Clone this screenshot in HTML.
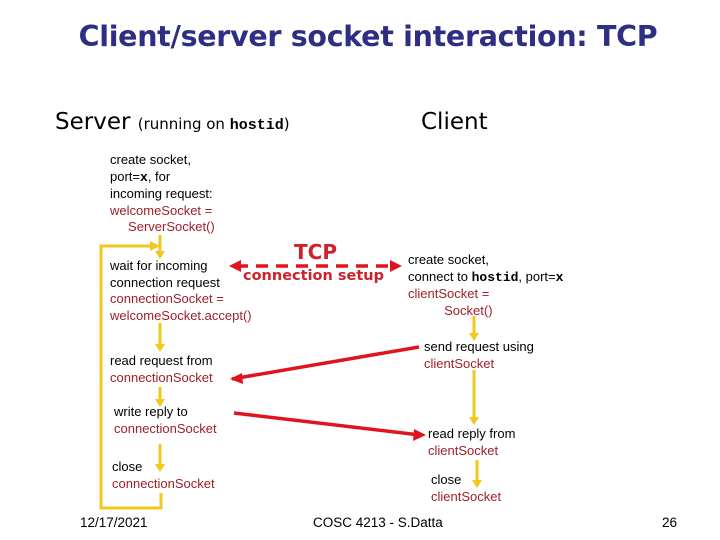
<!DOCTYPE html>
<html><head><meta charset="utf-8"><style>
body{margin:0;width:720px;height:540px;background:#fff;position:relative;overflow:hidden;font-family:"Liberation Sans",sans-serif;}
.t{position:absolute;font-size:13px;line-height:16.5px;color:#000;white-space:nowrap;}
.r{color:#a0202a;}
.m{font-family:"Liberation Mono",monospace;font-weight:bold;}
</style></head><body>
<div style="position:absolute;left:0;width:736px;top:20px;text-align:center;font-size:28.5px;font-weight:bold;color:#2e2e82;font-family:'DejaVu Sans',sans-serif;letter-spacing:-0.3px">Client/server socket interaction: TCP</div>
<div class="t" style="left:55px;top:108px;font-size:23px;line-height:28px;font-family:'DejaVu Sans',sans-serif">Server <span style="font-size:15px">(running on <span class="m" style="font-size:15px">hostid</span>)</span></div>
<div class="t" style="left:421px;top:108px;font-size:23px;line-height:28px;font-family:'DejaVu Sans',sans-serif">Client</div>

<div class="t" style="left:110px;top:152px">create socket,<br>port=<span class="m">x</span>, for<br>incoming request:<br><span class="r">welcomeSocket =<br>&nbsp;&nbsp;&nbsp;&nbsp;&nbsp;ServerSocket()</span></div>
<div class="t" style="left:110px;top:258px">wait for incoming<br>connection request<br><span class="r">connectionSocket =<br>welcomeSocket.accept()</span></div>
<div class="t" style="left:110px;top:353px">read request from<br><span class="r">connectionSocket</span></div>
<div class="t" style="left:114px;top:404px">write reply to<br><span class="r">connectionSocket</span></div>
<div class="t" style="left:112px;top:459px">close<br><span class="r">connectionSocket</span></div>

<div class="t" style="left:408px;top:252px">create socket,<br>connect to <span class="m">hostid</span>, port=<span class="m">x</span><br><span class="r">clientSocket =<br>&nbsp;&nbsp;&nbsp;&nbsp;&nbsp;&nbsp;&nbsp;&nbsp;&nbsp;&nbsp;Socket()</span></div>
<div class="t" style="left:424px;top:339px">send request using<br><span class="r">clientSocket</span></div>
<div class="t" style="left:428px;top:426px">read reply from<br><span class="r">clientSocket</span></div>
<div class="t" style="left:431px;top:472px">close<br><span class="r">clientSocket</span></div>

<div class="t" style="left:294px;top:241px;font-size:20px;line-height:22px;color:#d0202a;font-weight:bold;font-family:'DejaVu Sans',sans-serif">TCP</div>
<div class="t" style="left:243px;top:266px;font-size:14.5px;line-height:20px;color:#d0202a;font-weight:bold;font-family:'DejaVu Sans',sans-serif">connection setup</div>

<div class="t" style="left:80px;top:515px;font-size:13.5px">12/17/2021</div>
<div class="t" style="left:313px;top:515px;font-size:13.5px">COSC 4213 - S.Datta</div>
<div class="t" style="left:662px;top:515px;font-size:13.5px">26</div>

<svg width="720" height="540" style="position:absolute;left:0;top:0">
<g stroke="#f2c71e" stroke-width="3" fill="none">
<polyline points="151,246 101,246 101,508 161,508 161,493"/>
<line x1="160" y1="235" x2="160" y2="252"/>
<line x1="160" y1="323" x2="160" y2="345"/>
<line x1="160" y1="387" x2="160" y2="400"/>
<line x1="160" y1="444" x2="160" y2="465"/>
<line x1="474" y1="316" x2="474" y2="334"/>
<line x1="474" y1="370" x2="474" y2="418"/>
<line x1="477" y1="460" x2="477" y2="481"/>
</g>
<g fill="#f2c71e">
<polygon points="150,241 160,246 150,251"/>
<polygon points="155,251 165,251 160,259"/>
<polygon points="155,344 165,344 160,352"/>
<polygon points="155,399 165,399 160,407"/>
<polygon points="155,464 165,464 160,472"/>
<polygon points="469,333 479,333 474,341"/>
<polygon points="469,417 479,417 474,425"/>
<polygon points="472,480 482,480 477,488"/>
</g>
<g stroke="#e0141e" stroke-width="3.5" fill="none">
<line x1="236" y1="266" x2="392" y2="266" stroke-dasharray="12,8"/>
<line x1="419" y1="347" x2="232" y2="379"/>
<line x1="234" y1="413" x2="420" y2="435"/>
</g>
<g fill="#e0141e">
<polygon points="229,266 241,260 241,272"/>
<polygon points="402,266 390,260 390,272"/>
<polygon points="230,379 242,373 243,384"/>
<polygon points="426,435 414,429 413,441"/>
</g>
</svg>
</body></html>
